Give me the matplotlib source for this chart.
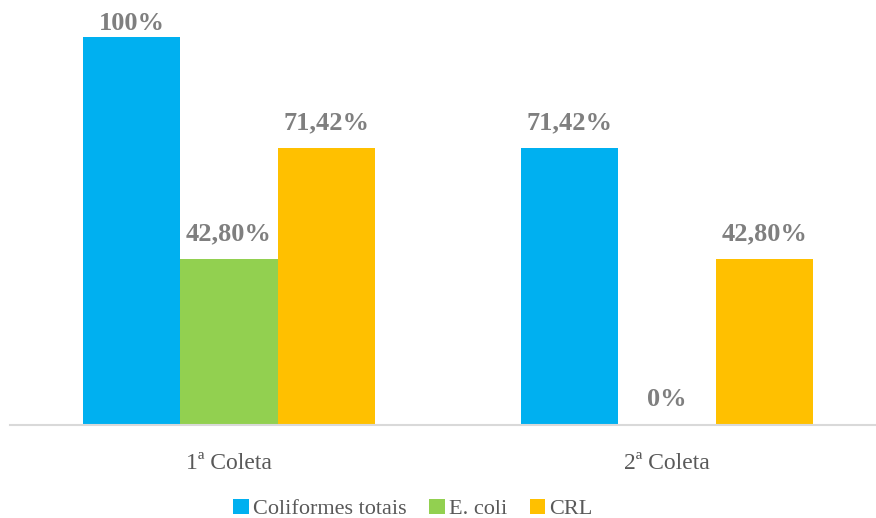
import matplotlib
matplotlib.use("Agg")
import matplotlib.pyplot as plt
import numpy as np

categories = ["1ª Coleta", "2ª Coleta"]
series_names = ["Coliformes totais", "E. coli", "CRL"]
coliformes = [1.0, 0.7142]
ecoli = [0.428, 0.0]
crl = [0.7142, 0.428]
value_labels = [["100%", "71,42%"], ["42,80%", "0%"], ["71,42%", "42,80%"]]
colors = ["#00B0F0", "#92D050", "#FFC000"]

W, H = 876, 518
fig = plt.figure(figsize=(W / 100, H / 100), dpi=100)
ax = fig.add_axes([10 / W, (H - 425) / H, 866 / W, 425 / H])

font = "Liberation Serif"
x = np.arange(len(categories))
bw = 97.5 / 438
data = [coliformes, ecoli, crl]
for i, (vals, name, col) in enumerate(zip(data, series_names, colors)):
    xs = x + (i - 1) * bw
    ax.bar(xs, vals, width=bw, color=col, label=name, zorder=2)
    for xi, v, lab in zip(xs, vals, value_labels[i]):
        ly = min(v + 14 / 388, 1.005)
        ax.text(xi, ly, lab, ha="center", va="bottom", fontsize=19,
                fontweight="bold", color="#7F7F7F", family=font)

ax.set_xlim(-0.5, (876 - 229) / 438)
ax.set_ylim(0, 425 / 388)
for s in ["top", "right", "left"]:
    ax.spines[s].set_visible(False)
ax.spines["bottom"].set_color("#D9D9D9")
ax.spines["bottom"].set_linewidth(1.5)
ax.set_yticks([])
ax.set_xticks(x)
ax.set_xticklabels(categories, fontsize=17, color="#595959", family=font)
ax.tick_params(axis="x", length=0, pad=20)

leg = fig.legend(loc="center", bbox_to_anchor=(413 / W, 9 / H), ncol=3,
                 frameon=False, prop={"family": font, "size": 16},
                 handlelength=0.7, handleheight=0.7, handletextpad=0.2,
                 columnspacing=1.0, borderpad=0)
for t in leg.get_texts():
    t.set_color("#595959")

fig.savefig("out.png", dpi=100)
